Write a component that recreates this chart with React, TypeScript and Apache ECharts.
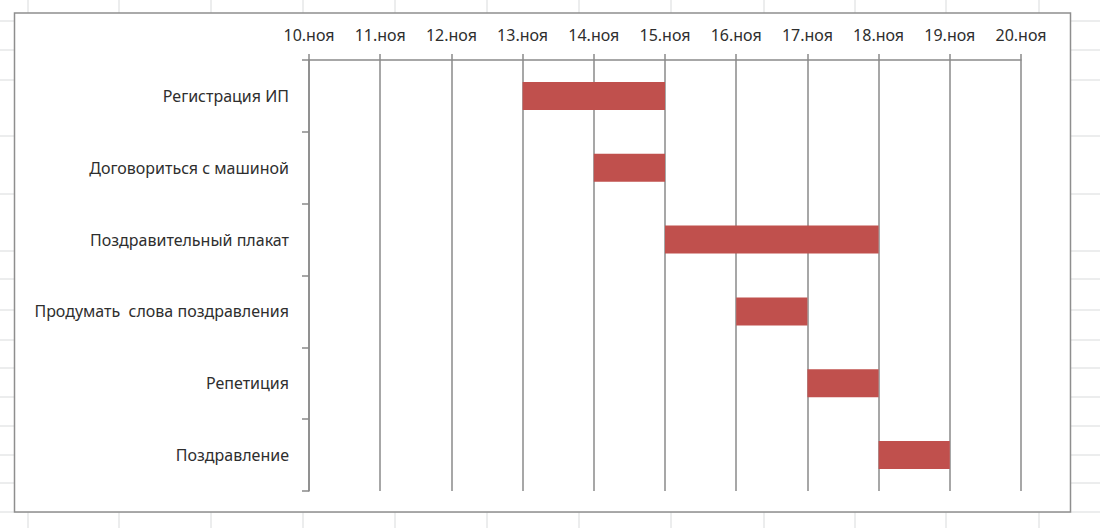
import React, { useEffect, useRef } from "react";
import * as echarts from "echarts";

// Tasks of the plan, top to bottom
const tasks = [
  "Регистрация ИП",
  "Договориться с машиной",
  "Поздравительный плакат",
  "Продумать  слова поздравления",
  "Репетиция",
  "Поздравление",
];
// Day of November each task starts and ends
const startDay = [13, 14, 15, 16, 17, 18];
const endDay = [15, 15, 18, 17, 18, 19];
// Date axis range and label suffix
const dayMin = 10;
const dayMax = 20;
const monthSuffix = ".ноя";

// Worksheet cell borders visible around the embedded chart
const sheetCols = [28, 119, 211, 303, 395, 487, 579, 671, 764, 855, 946, 1039];
const sheetRows = [21, 50, 80, 136, 194, 251, 279, 310, 340, 368, 397, 426, 455, 483, 512];

const FONT = "'Noto Sans', sans-serif";
const TEXT = "#2e2e2e";
const GRID = "#8a8a8a";

export default function App() {
  const ref = useRef<HTMLDivElement>(null);

  useEffect(() => {
    if (!ref.current) return;
    const chart = echarts.init(ref.current, null, { renderer: "svg" });

    const durations = startDay.map((s, i) => endDay[i] - s);

    const sheetLines: any[] = [];
    sheetCols.forEach((x) => {
      sheetLines.push({
        type: "line",
        z: -20,
        shape: { x1: x, y1: 0, x2: x, y2: 528 },
        style: { stroke: "#d9dbdc", lineWidth: 1 },
      });
    });
    sheetRows.forEach((y) => {
      sheetLines.push({
        type: "line",
        z: -20,
        shape: { x1: 0, y1: y, x2: 1100, y2: y },
        style: { stroke: "#d9dbdc", lineWidth: 1 },
      });
    });

    chart.setOption({
      animation: false,
      backgroundColor: "#ffffff",
      graphic: [
        ...sheetLines,
        {
          type: "rect",
          z: -10,
          shape: { x: 14.5, y: 13, width: 1056, height: 499 },
          style: { fill: "#ffffff", stroke: "#8e8e8e", lineWidth: 1.5 },
        },
      ],
      grid: { left: 309, top: 60, right: 79, bottom: 37, containLabel: false },
      xAxis: {
        type: "value",
        position: "top",
        min: dayMin,
        max: dayMax,
        interval: 1,
        axisLine: { show: true, lineStyle: { color: GRID, width: 1.5 } },
        axisTick: { show: true, length: 6, lineStyle: { color: GRID, width: 1.5 } },
        axisLabel: {
          margin: 17,
          color: TEXT,
          fontFamily: FONT,
          fontSize: 16,
          formatter: (v: number) => `${v}${monthSuffix}`,
        },
        splitLine: { show: true, lineStyle: { color: GRID, width: 1.5 } },
      },
      yAxis: {
        type: "category",
        inverse: true,
        data: tasks,
        axisLine: { show: true, lineStyle: { color: GRID, width: 1.5 } },
        axisTick: { show: true, length: 7, lineStyle: { color: GRID, width: 1.5 } },
        axisLabel: { margin: 20, color: TEXT, fontFamily: FONT, fontSize: 16 },
        splitLine: { show: false },
      },
      series: [
        {
          type: "bar",
          stack: "gantt",
          data: startDay,
          itemStyle: { color: "transparent" },
          barCategoryGap: "61%",
          silent: true,
        },
        {
          type: "bar",
          stack: "gantt",
          data: durations,
          itemStyle: { color: "#c0504d" },
          barCategoryGap: "61%",
        },
      ],
    });

    return () => chart.dispose();
  }, []);

  return (
    <div
      ref={ref}
      style={{ position: "fixed", left: 0, top: 0, width: 1100, height: 528 }}
    />
  );
}
